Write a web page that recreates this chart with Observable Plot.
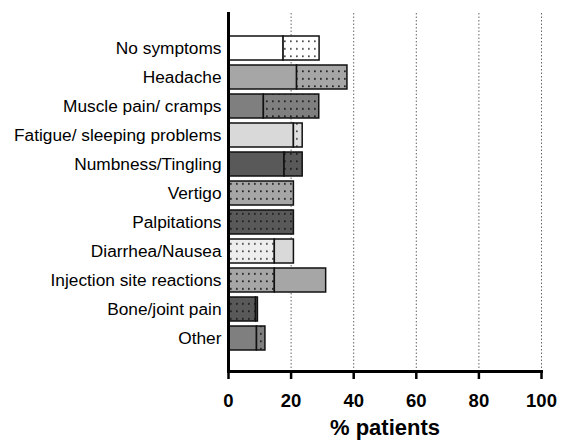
<!DOCTYPE html>
<html><head><meta charset="utf-8">
<script src="https://cdn.jsdelivr.net/npm/d3@7"></script>
<script src="https://cdn.jsdelivr.net/npm/@observablehq/plot@0.6"></script>
<style>body{margin:0;background:#fff}</style>
</head><body><div id="chart"></div>
<script>
const categories = ["No symptoms","Headache","Muscle pain/ cramps","Fatigue/ sleeping problems","Numbness/Tingling","Vertigo","Palpitations","Diarrhea/Nausea","Injection site reactions","Bone/joint pain","Other"];
const solidValues  = [17.6, 21.9, 11.3, 20.9, 17.9, 0, 0, 6.1, 16.4, 0.6, 9.1];
const dottedValues = [11.5, 16.1, 17.7, 2.8, 5.8, 20.9, 20.9, 14.8, 14.8, 8.8, 2.7];
const dottedFirst  = [false,false,false,false,false,true,true,true,true,true,false];
const xTicks = [0,20,40,60,80,100];
const gridTicks = [20,40,60,80,100];

// styles
const solidColors  = ["#ffffff","#a6a6a6","#7f7f7f","#d9d9d9","#595959","#a6a6a6","#595959","#d9d9d9","#a6a6a6","#595959","#7f7f7f"];
const dottedColors = ["#ffffff","#a6a6a6","#7f7f7f","#e0e0e0","#595959","#a6a6a6","#595959","#eeeeee","#a6a6a6","#595959","#7f7f7f"];

const segments = [];
categories.forEach((c, i) => {
  const parts = [{kind: "solid", v: solidValues[i]}, {kind: "dotted", v: dottedValues[i]}];
  if (dottedFirst[i]) parts.reverse();
  let x = 0;
  for (const p of parts) {
    if (p.v > 0) segments.push({cat: c, x1: x, x2: x + p.v,
      fill: p.kind === "solid" ? solidColors[i] : `url(#dots-${dottedColors[i].slice(1)})`});
    x += p.v;
  }
});

const defs = () => {
  const d = d3.create("svg:defs");
  for (const col of new Set(dottedColors)) {
    const lum = d3.hsl(col).l;
    const p = d.append("pattern").attr("id", "dots-" + col.slice(1))
      .attr("patternUnits", "userSpaceOnUse").attr("width", 6).attr("height", 7.5);
    p.append("rect").attr("width", 6).attr("height", 7.5).attr("fill", col);
    p.append("rect").attr("x", 2).attr("y", 3).attr("width", 1.7).attr("height", 1.7)
      .attr("fill", lum > 0.8 ? "#444" : "#1a1a1a");
  }
  return d.node();
};

const chart = Plot.plot({
  width: 561, height: 440, marginLeft: 228, marginRight: 20, marginTop: 13, marginBottom: 69,
  style: {fontFamily: "'Liberation Sans', Arial, sans-serif", background: "white", color: "black"},
  x: {domain: [0, 100]},
  y: {domain: categories, range: [26, 360], padding: 0.16},
  color: {type: "identity"},
  marks: [
    defs,
    Plot.ruleX(gridTicks, {stroke: "#666", strokeDasharray: "1.5,2", strokeWidth: 1}),
    Plot.barX(segments, {x1: "x1", x2: "x2", y: "cat", fill: "fill", stroke: "#111", strokeWidth: 1.5}),
    Plot.axisY({tickSize: 0, tickPadding: 7, fontSize: 17.3, label: null}),
    Plot.axisX({ticks: xTicks, tickSize: 8, tickPadding: 14, strokeWidth: 2.5, fontSize: 18.5, fontWeight: "bold", label: null}),
    Plot.frame({anchor: "left", strokeWidth: 3}),
    Plot.frame({anchor: "bottom", strokeWidth: 3}),
    Plot.text(["% patients"], {text: d => d, frameAnchor: "bottom", dy: 48, lineAnchor: "top", fontSize: 22, fontWeight: "bold"})
  ]
});
document.getElementById("chart").appendChild(chart);
</script>
</body></html>
